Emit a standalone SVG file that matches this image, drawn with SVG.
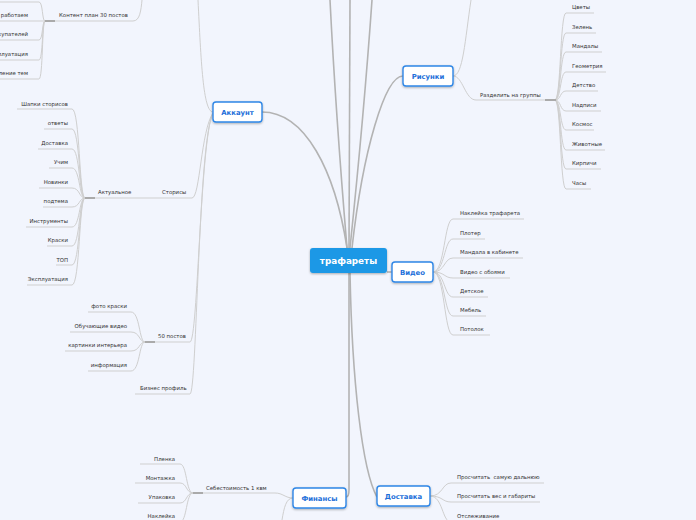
<svg xmlns="http://www.w3.org/2000/svg" width="696" height="520" viewBox="0 0 696 520">
<defs>
<filter id="sh" x="-20%" y="-30%" width="140%" height="170%"><feDropShadow dx="0" dy="1" stdDeviation="0.8" flood-color="#000" flood-opacity="0.3"/></filter>
<style>
.t{font-family:"DejaVu Sans",Verdana,sans-serif;font-size:5.4px;fill:#333}
.e{text-anchor:end}
.n{font-family:"DejaVu Sans",Verdana,sans-serif;font-size:6.9px;font-weight:bold;fill:#1d6fd9;text-anchor:middle}
.c{font-family:"DejaVu Sans",Verdana,sans-serif;font-size:8.8px;font-weight:bold;fill:#fff;text-anchor:middle}
.box{fill:#fff;stroke:#2f86e6;stroke-width:1.4}
.u{stroke:#cfcfcf;stroke-width:1;fill:none}
.l{stroke:#cfcfcf;stroke-width:1;fill:none}
.j{stroke:#aaa;stroke-width:2;fill:none}
.m{stroke:#b3b3b3;stroke-width:1.6;fill:none}
</style>
</defs>
<rect width="696" height="520" fill="#f2f5fd"/>

<g id="connectors">
<path class="m" d="M330 0 C335 100 343 200 347 248"/>
<path class="m" d="M350 0 L349 248"/>
<path class="m" d="M372 0 C365 100 355 200 350 248"/>
<path class="m" d="M262 112 C305 112 335 170 347 248"/>
<path class="m" d="M403 76 C385 76 363 150 352 248"/>
<path class="m" d="M387 272 L392 272"/>
<path class="m" d="M349 273 L349 490 Q349 497 346 497"/>
<path class="m" d="M350 273 C352 380 362 470 377 497"/>
<path class="l" d="M213 112 C203 112 201 60 198 0"/>
<path class="l" d="M192 198 C200 198 201 130 213 113"/>
<path class="l" d="M190 342 C198 342 200 140 213 113"/>
<path class="l" d="M190 394 C197 394 198 140 213 113"/>
<path class="l" d="M133 21 C140 21 141 10 142 0"/>
<path class="l" d="M45 21 C42 21 43 2 39 2"/>
<path class="l" d="M45 21 C42 21 43 40 39 40"/>
<path class="l" d="M45 21 C42 21 43 60 39 60"/>
<path class="l" d="M45 21 C42 21 43 79 39 79"/>
<path class="l" d="M85 198 C79 198 80 109 72 109"/>
<path class="l" d="M85 198 C79 198 80 129 72 129"/>
<path class="l" d="M85 198 C79 198 80 149 72 149"/>
<path class="l" d="M85 198 C79 198 80 168 72 168"/>
<path class="l" d="M85 198 C79 198 80 188 72 188"/>
<path class="l" d="M85 198 C79 198 80 207 72 207"/>
<path class="l" d="M85 198 C79 198 80 227 72 227"/>
<path class="l" d="M85 198 C79 198 80 246 72 246"/>
<path class="l" d="M85 198 C79 198 80 265 72 265"/>
<path class="l" d="M85 198 C79 198 80 285 72 285"/>
<path class="l" d="M145 342 C139 342 140 312 131 312"/>
<path class="l" d="M145 342 C139 342 140 332 131 332"/>
<path class="l" d="M145 342 C139 342 140 351 131 351"/>
<path class="l" d="M145 342 C139 342 140 371 131 371"/>
<path class="l" d="M453 76 C463 76 465 40 471 0"/>
<path class="l" d="M453 76 C463 76 465 100 476 100"/>
<path class="l" d="M555 100 C561 100 560 13 566 13"/>
<path class="l" d="M555 100 C561 100 560 33 566 33"/>
<path class="l" d="M555 100 C561 100 560 52 566 52"/>
<path class="l" d="M555 100 C561 100 560 72 566 72"/>
<path class="l" d="M555 100 C561 100 560 91 566 91"/>
<path class="l" d="M555 100 C561 100 560 111 566 111"/>
<path class="l" d="M555 100 C561 100 560 130 566 130"/>
<path class="l" d="M555 100 C561 100 560 150 566 150"/>
<path class="l" d="M555 100 C561 100 560 169 566 169"/>
<path class="l" d="M555 100 C561 100 560 189 566 189"/>
<path class="l" d="M433 272 C445 272 444 219 453 219"/>
<path class="l" d="M433 272 C445 272 444 239 453 239"/>
<path class="l" d="M433 272 C445 272 444 258 453 258"/>
<path class="l" d="M433 272 C445 272 444 278 453 278"/>
<path class="l" d="M433 272 C445 272 444 297 453 297"/>
<path class="l" d="M433 272 C445 272 444 316 453 316"/>
<path class="l" d="M433 272 C445 272 444 335 453 335"/>
<path class="l" d="M293 498 C285 498 283 493 275 493"/>
<path class="l" d="M293 498 C286 498 284 508 282 520"/>
<path class="l" d="M193 493 C186 493 187 464 180 464"/>
<path class="l" d="M193 493 C186 493 187 483 180 483"/>
<path class="l" d="M193 493 C186 493 187 503 180 503"/>
<path class="l" d="M193 493 C186 493 187 522 180 522"/>
<path class="l" d="M430 496 C443 496 442 483 451 483"/>
<path class="l" d="M430 496 C443 496 442 502 451 502"/>
<path class="l" d="M430 496 C443 496 442 522 451 522"/>
</g>

<g id="n-center"><rect x="310" y="248" width="77" height="25" rx="3" fill="#1b98e6" filter="url(#sh)"/><text class="c" x="348.5" y="264">трафареты</text></g>

<g id="n-akkaunt"><rect class="box" x="213" y="102" width="49" height="20" rx="3" filter="url(#sh)"/><text class="n" x="237.5" y="114.5">Аккаунт</text></g>
<g id="n-risunki"><rect class="box" x="403" y="66" width="50" height="20" rx="3" filter="url(#sh)"/><text class="n" x="428" y="78.5">Рисунки</text></g>
<g id="n-video"><rect class="box" x="392" y="262" width="41" height="20" rx="3" filter="url(#sh)"/><text class="n" x="412.5" y="274.5">Видео</text></g>
<g id="n-finansy"><rect class="box" x="293" y="488" width="53" height="20" rx="3" filter="url(#sh)"/><text class="n" x="319.5" y="500.5">Финансы</text></g>
<g id="n-dostavka"><rect class="box" x="377" y="486" width="53" height="20" rx="3" filter="url(#sh)"/><text class="n" x="403.5" y="498.5">Доставка</text></g>

<g id="n-kontent"><path class="u" d="M55 21 H133"/><path class="j" d="M45 21 H55"/><text class="t" x="59" y="17">Контент план 30 постов</text></g>
<g id="n-kp0"><path class="u" d="M0 2 H39"/></g>
<g id="n-kp1"><path class="u" d="M0 21 H45"/><text class="t e" x="28" y="17">работаем</text></g>
<g id="n-kp2"><path class="u" d="M0 40 H39"/><text class="t e" x="28" y="36">покупателей</text></g>
<g id="n-kp3"><path class="u" d="M0 60 H39"/><text class="t e" x="28" y="56">Эксплуатация</text></g>
<g id="n-kp4"><path class="u" d="M0 79 H39"/><text class="t e" x="28" y="75">Определение тем</text></g>

<g id="n-storisy"><path class="u" d="M135 198 H192"/><text class="t" x="162" y="194">Сторисы</text></g>
<g id="n-aktualnoe"><path class="u" d="M95 198 H135"/><path class="j" d="M85 198 H95"/><text class="t" x="98" y="194">Актуальное</text></g>
<g id="n-a1"><path class="u" d="M17 109 H72"/><text class="t e" x="68" y="106">Шапки сторисов</text></g>
<g id="n-a2"><path class="u" d="M44 129 H72"/><text class="t e" x="68" y="125">ответы</text></g>
<g id="n-a3"><path class="u" d="M38 149 H72"/><text class="t e" x="68" y="145">Доставка</text></g>
<g id="n-a4"><path class="u" d="M49 168 H72"/><text class="t e" x="68" y="164">Учим</text></g>
<g id="n-a5"><path class="u" d="M39 188 H72"/><text class="t e" x="68" y="184">Новинки</text></g>
<g id="n-a6"><path class="u" d="M43 207 H72"/><text class="t e" x="68" y="203">подтема</text></g>
<g id="n-a7"><path class="u" d="M26 227 H72"/><text class="t e" x="68" y="223">Инструменты</text></g>
<g id="n-a8"><path class="u" d="M47 246 H72"/><text class="t e" x="68" y="242">Краски</text></g>
<g id="n-a9"><path class="u" d="M56 265 H72"/><text class="t e" x="68" y="262">ТОП</text></g>
<g id="n-a10"><path class="u" d="M27 285 H72"/><text class="t e" x="68" y="281">Эксплуатация</text></g>

<g id="n-50"><path class="u" d="M155 342 H190"/><path class="j" d="M145 342 H155"/><text class="t" x="158" y="338">50 постов</text></g>
<g id="n-p1"><path class="u" d="M88 312 H131"/><text class="t e" x="127" y="308">фото краски</text></g>
<g id="n-p2"><path class="u" d="M70 332 H131"/><text class="t e" x="127" y="328">Обучающие видео</text></g>
<g id="n-p3"><path class="u" d="M65 351 H131"/><text class="t e" x="127" y="347">картинки интерьера</text></g>
<g id="n-p4"><path class="u" d="M88 371 H131"/><text class="t e" x="127" y="367">информация</text></g>
<g id="n-biznes"><path class="u" d="M135 394 H190"/><text class="t" x="140" y="390">Бизнес профиль</text></g>

<g id="n-razdelit"><path class="u" d="M476 100 H545"/><path class="j" d="M545 100 H556"/><text class="t" x="480" y="97">Разделить на группы</text></g>
<g id="n-r1"><path class="u" d="M566 13 H594"/><text class="t" x="572" y="9">Цветы</text></g>
<g id="n-r2"><path class="u" d="M566 33 H596"/><text class="t" x="572" y="29">Зелень</text></g>
<g id="n-r3"><path class="u" d="M566 52 H602"/><text class="t" x="572" y="48">Мандалы</text></g>
<g id="n-r4"><path class="u" d="M566 72 H606"/><text class="t" x="572" y="68">Геометрия</text></g>
<g id="n-r5"><path class="u" d="M566 91 H598"/><text class="t" x="572" y="87">Детство</text></g>
<g id="n-r6"><path class="u" d="M566 111 H601"/><text class="t" x="572" y="107">Надписи</text></g>
<g id="n-r7"><path class="u" d="M566 130 H594"/><text class="t" x="572" y="126">Космос</text></g>
<g id="n-r8"><path class="u" d="M566 150 H605"/><text class="t" x="572" y="146">Животные</text></g>
<g id="n-r9"><path class="u" d="M566 169 H601"/><text class="t" x="572" y="165">Кирпичи</text></g>
<g id="n-r10"><path class="u" d="M566 189 H591"/><text class="t" x="572" y="185">Часы</text></g>

<g id="n-v1"><path class="u" d="M453 219 H524"/><text class="t" x="460" y="215">Наклейка трафарета</text></g>
<g id="n-v2"><path class="u" d="M453 239 H485"/><text class="t" x="460" y="235">Плотер</text></g>
<g id="n-v3"><path class="u" d="M453 258 H523"/><text class="t" x="460" y="254">Мандала в кабинете</text></g>
<g id="n-v4"><path class="u" d="M453 278 H510"/><text class="t" x="460" y="274">Видео с обоями</text></g>
<g id="n-v5"><path class="u" d="M453 297 H488"/><text class="t" x="460" y="293">Детское</text></g>
<g id="n-v6"><path class="u" d="M453 316 H486"/><text class="t" x="460" y="312">Мебель</text></g>
<g id="n-v7"><path class="u" d="M453 335 H490"/><text class="t" x="460" y="331">Потолок</text></g>

<g id="n-sebest"><path class="u" d="M203 493 H275"/><path class="j" d="M193 493 H203"/><text class="t" x="206" y="490">Себестоимость 1 квм</text></g>
<g id="n-f1"><path class="u" d="M140 464 H180"/><text class="t e" x="175" y="461">Пленка</text></g>
<g id="n-f2"><path class="u" d="M135 483 H180"/><text class="t e" x="175" y="480">Монтажка</text></g>
<g id="n-f3"><path class="u" d="M138 503 H180"/><text class="t e" x="175" y="499">Упаковка</text></g>
<g id="n-f4"><path class="u" d="M138 522 H180"/><text class="t e" x="175" y="518">Наклейка</text></g>

<g id="n-d1"><path class="u" d="M451 483 H544"/><text class="t" x="457" y="479" style="white-space:pre">Просчитать  самую дальнюю</text></g>
<g id="n-d2"><path class="u" d="M451 502 H540"/><text class="t" x="457" y="498">Просчитать вес и габариты</text></g>
<g id="n-d3"><path class="u" d="M451 522 H520"/><text class="t" x="457" y="518">Отслеживание</text></g>
</svg>
